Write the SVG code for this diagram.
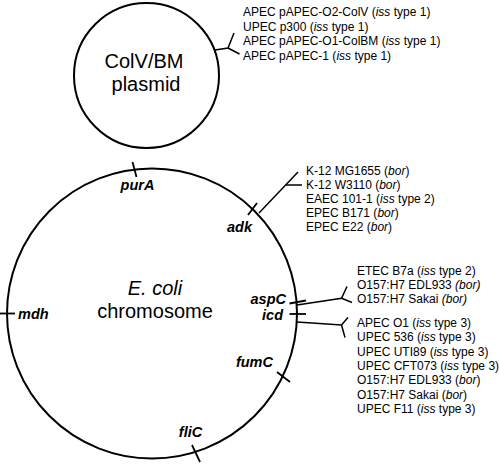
<svg xmlns="http://www.w3.org/2000/svg" width="500" height="464" viewBox="0 0 500 464">
<style>
.bg{fill:#ffffff}
.ring{fill:none;stroke:#000;stroke-width:2}
.ln{fill:none;stroke:#000;stroke-width:1.5;stroke-linecap:butt}
.tk{fill:none;stroke:#000;stroke-width:1.8}
.big{font-family:"Liberation Sans",Arial,sans-serif;font-size:20px;fill:#000;text-anchor:middle}
.gene{font-family:"Liberation Sans",Arial,sans-serif;font-size:14.5px;font-weight:bold;font-style:italic;fill:#000}
.lst{font-family:"Liberation Sans",Arial,sans-serif;font-size:12px;fill:#000}
.it{font-style:italic}
</style>
<rect class="bg" x="0" y="0" width="500" height="464"/>

<g id="plasmid">
  <circle class="ring" cx="146.5" cy="75.5" r="72.5"/>
  <text class="big" x="144" y="68">ColV/BM</text>
  <text class="big" x="146" y="91">plasmid</text>
</g>

<g id="chromosome">
  <circle class="ring" cx="152" cy="313.5" r="145"/>
  <text class="big" x="155" y="295"><tspan class="it">E. coli</tspan></text>
  <text class="big" x="155" y="318">chromosome</text>
</g>

<g id="gene-purA">
  <line class="tk" x1="132.5" y1="162" x2="136.5" y2="177"/>
  <text class="gene" x="137.5" y="190" text-anchor="middle">purA</text>
</g>
<g id="gene-adk">
  <line class="tk" x1="248" y1="215" x2="257" y2="203"/>
  <text class="gene" x="252" y="232" text-anchor="end">adk</text>
</g>
<g id="gene-aspC">
  <line class="tk" x1="289.5" y1="303.5" x2="306" y2="300.5"/>
  <text class="gene" x="286" y="303.8" text-anchor="end">aspC</text>
</g>
<g id="gene-icd">
  <line class="tk" x1="289.5" y1="314" x2="306" y2="314"/>
  <text class="gene" x="283" y="320.3" text-anchor="end">icd</text>
</g>
<g id="gene-mdh">
  <line class="tk" x1="0" y1="313.5" x2="15" y2="313.5"/>
  <text class="gene" x="18" y="318.5">mdh</text>
</g>
<g id="gene-fumC">
  <line class="tk" x1="277" y1="372" x2="290" y2="382"/>
  <text class="gene" x="273" y="367" text-anchor="end">fumC</text>
</g>
<g id="gene-fliC">
  <line class="tk" x1="192" y1="445" x2="200" y2="462"/>
  <text class="gene" x="190.5" y="437" text-anchor="middle">fliC</text>
</g>

<g id="connectors">
  <polyline class="ln" points="215,50 228,48 234,33"/>
  <line class="ln" x1="228" y1="48" x2="239.5" y2="54"/>
  <line class="ln" x1="259" y1="213" x2="298" y2="172"/>
  <line class="ln" x1="286" y1="185" x2="302" y2="185"/>
  <polyline class="ln" points="297,305 341.5,298.3 347,286.5"/>
  <line class="ln" x1="341.5" y1="298.3" x2="352" y2="302.5"/>
  <polyline class="ln" points="297,322 341.5,325 348,317.5"/>
  <line class="ln" x1="341.5" y1="325" x2="345" y2="337.5"/>
</g>

<g id="list-plasmid" class="lst">
  <text x="243" y="16">APEC pAPEC-O2-ColV (<tspan class="it">iss</tspan> type 1)</text>
  <text x="243" y="30.5">UPEC p300 (<tspan class="it">iss</tspan> type 1)</text>
  <text x="243" y="45">APEC pAPEC-O1-ColBM (<tspan class="it">iss</tspan> type 1)</text>
  <text x="243" y="59.5">APEC pAPEC-1 (<tspan class="it">iss</tspan> type 1)</text>
</g>

<g id="list-adk" class="lst">
  <text x="306" y="174.5">K-12 MG1655 (<tspan class="it">bor</tspan>)</text>
  <text x="306" y="188.5">K-12 W3110 (<tspan class="it">bor</tspan>)</text>
  <text x="306" y="202.5">EAEC 101-1 (<tspan class="it">iss</tspan> type 2)</text>
  <text x="306" y="216.8">EPEC B171 (<tspan class="it">bor</tspan>)</text>
  <text x="306" y="231">EPEC E22 (<tspan class="it">bor</tspan>)</text>
</g>

<g id="list-aspC" class="lst">
  <text x="357" y="274.5">ETEC B7a (<tspan class="it">iss</tspan> type 2)</text>
  <text x="357" y="288.5">O157:H7 EDL933 <tspan class="it">(bor)</tspan></text>
  <text x="357" y="302.7">O157:H7 Sakai <tspan class="it">(bor)</tspan></text>
</g>

<g id="list-icd" class="lst">
  <text x="357" y="327">APEC O1 (<tspan class="it">iss</tspan> type 3)</text>
  <text x="357" y="341.3">UPEC 536 (<tspan class="it">iss</tspan> type 3)</text>
  <text x="357" y="355.6">UPEC UTI89 (<tspan class="it">iss</tspan> type 3)</text>
  <text x="357" y="370">UPEC CFT073 (<tspan class="it">iss</tspan> type 3)</text>
  <text x="357" y="384.3">O157:H7 EDL933 (<tspan class="it">bor</tspan>)</text>
  <text x="357" y="398.6">O157:H7 Sakai (<tspan class="it">bor</tspan>)</text>
  <text x="357" y="413">UPEC F11 (<tspan class="it">iss</tspan> type 3)</text>
</g>
</svg>
